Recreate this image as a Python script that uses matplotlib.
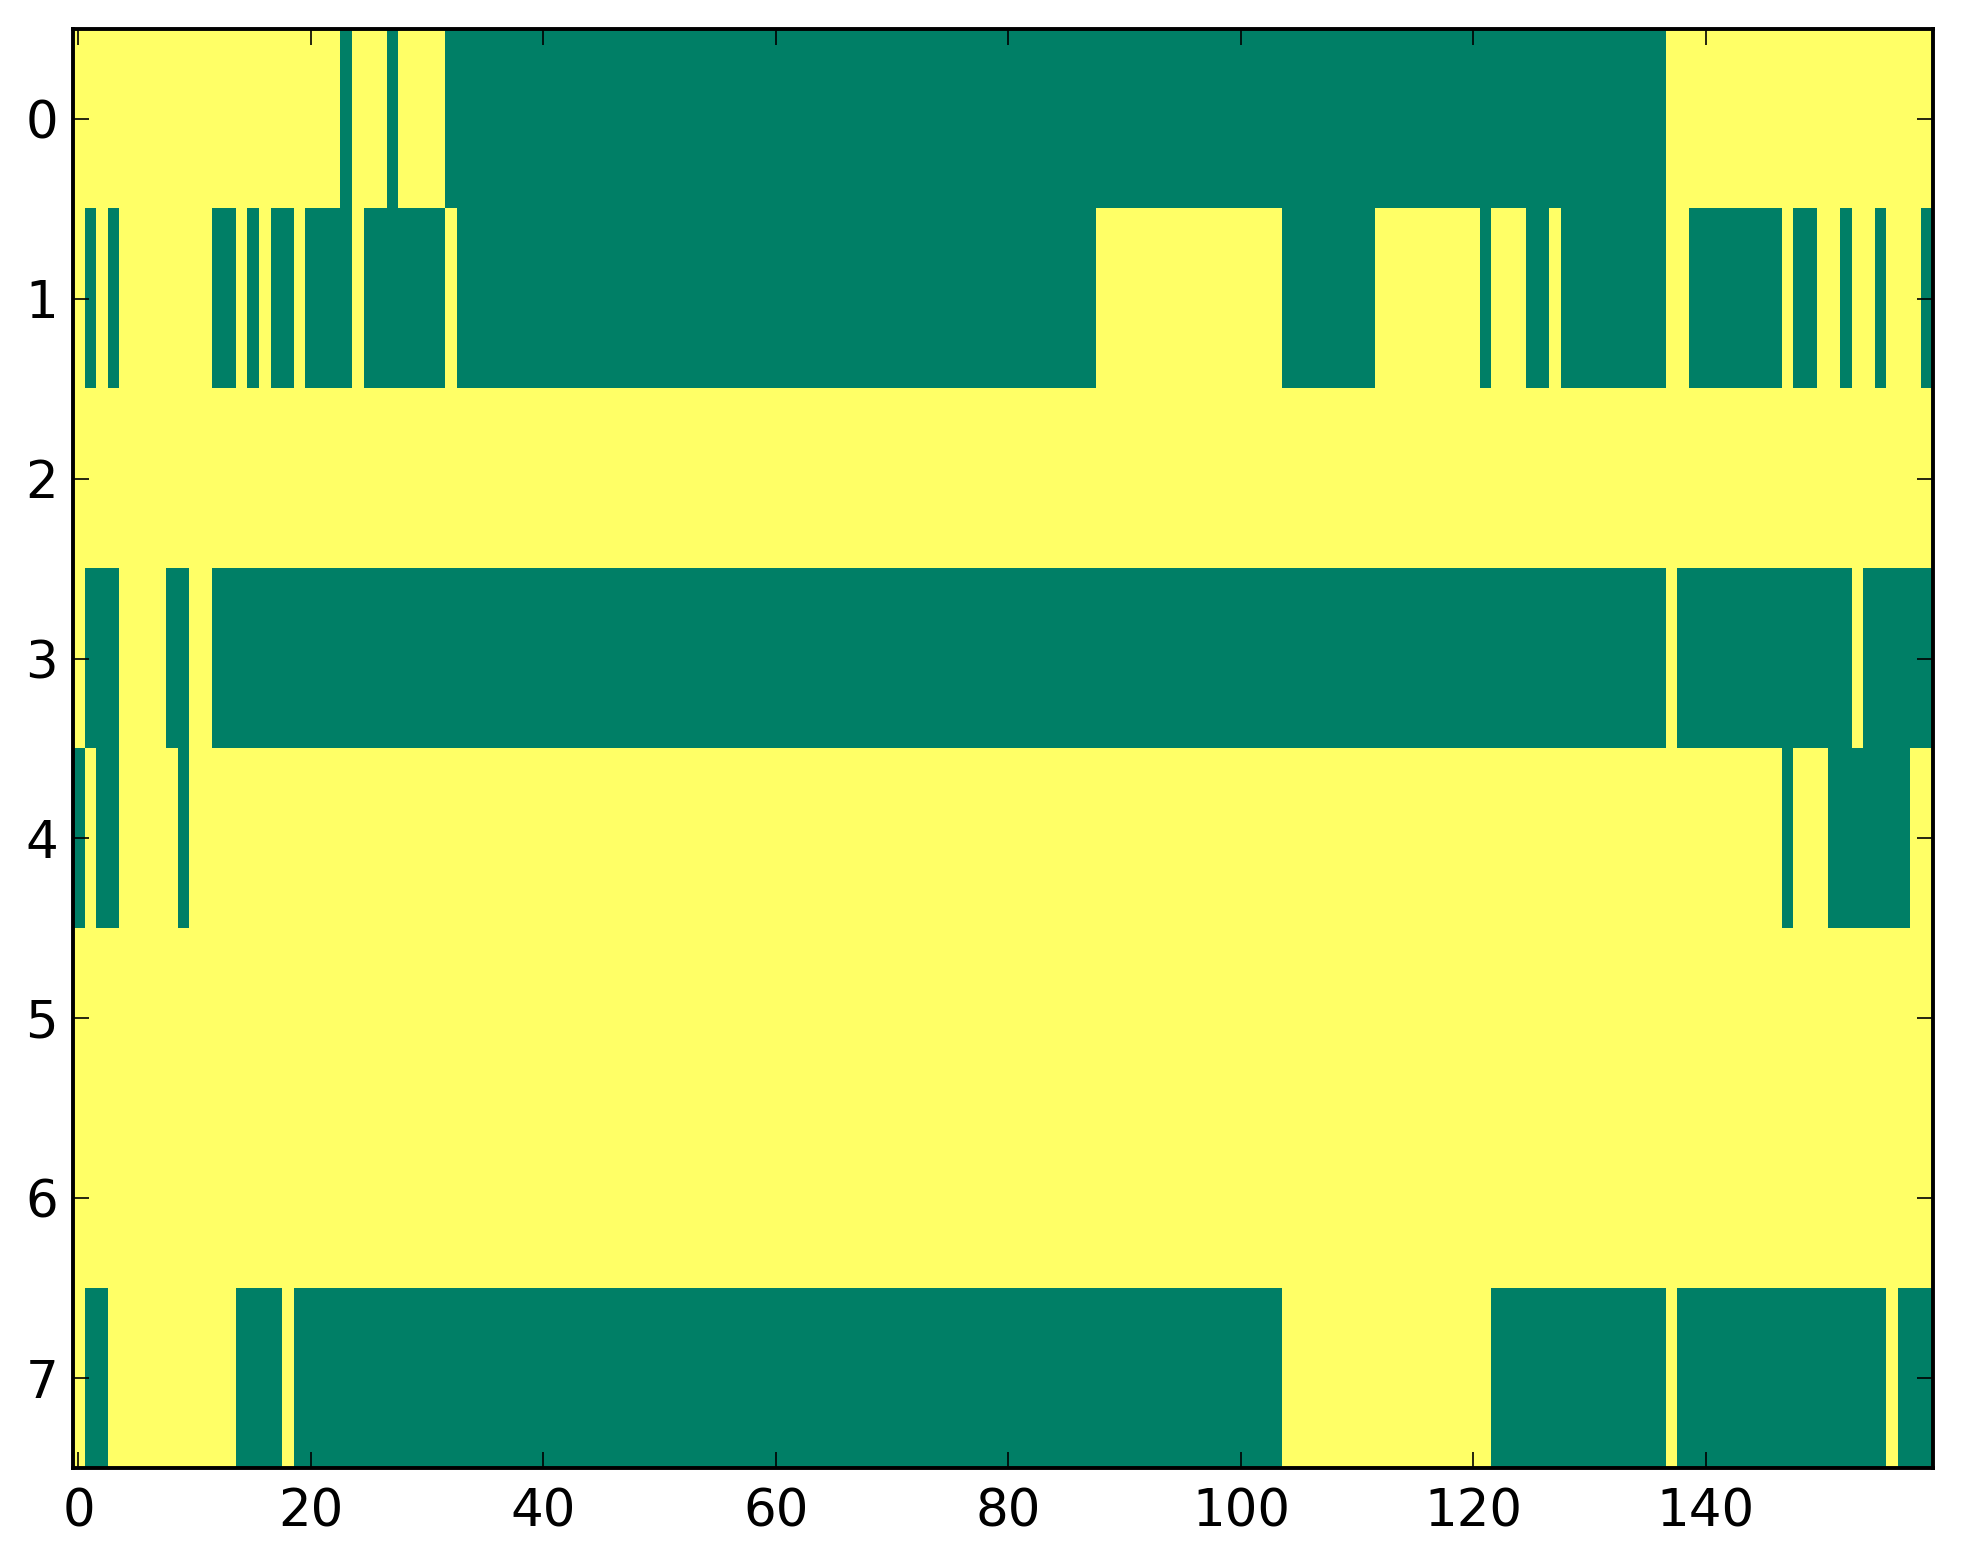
import numpy as np
import matplotlib
matplotlib.use("Agg")
import matplotlib.pyplot as plt

# grid size: 8 rows x 160 columns, 1 = yellow, 0 = green
n_rows = 8
n_cols = 160

# green (value 0) column runs per row, inclusive (start, end)
row0_green = [(23, 23), (27, 27), (32, 136)]
row1_green = [(1, 1), (3, 3), (12, 13), (15, 15), (17, 18), (20, 23), (25, 31),
              (33, 87), (104, 111), (121, 121), (125, 126), (128, 136),
              (139, 146), (148, 149), (152, 152), (155, 155), (159, 159)]
row2_green = []
row3_green = [(1, 3), (8, 9), (12, 136), (138, 152), (154, 159)]
row4_green = [(0, 0), (2, 3), (9, 9), (147, 147), (151, 157)]
row5_green = []
row6_green = []
row7_green = [(1, 2), (14, 17), (19, 103), (122, 136), (138, 155), (157, 159)]

rows_green = [row0_green, row1_green, row2_green, row3_green,
              row4_green, row5_green, row6_green, row7_green]

x_ticks = [0, 20, 40, 60, 80, 100, 120, 140]
y_ticks = list(range(n_rows))

grid = np.ones((n_rows, n_cols))
for r, runs in enumerate(rows_green):
    for a, b in runs:
        grid[r, a:b + 1] = 0

fig = plt.figure(figsize=(9.815, 7.82), dpi=200)
ax = fig.add_axes([0.037, 0.0614, 0.9475, 0.9201])

ax.imshow(grid, cmap="summer", interpolation="nearest", aspect="auto",
          vmin=0, vmax=1)

ax.set_xticks(x_ticks)
ax.set_yticks(y_ticks)
ax.tick_params(direction="in", top=True, right=True, length=5.8, width=0.6,
               labelsize=18.5, pad=7)
ax.tick_params(axis="y", pad=5.2)
for s in ax.spines.values():
    s.set_linewidth(1.4)

fig.savefig("out.png", dpi=200, facecolor="white")
